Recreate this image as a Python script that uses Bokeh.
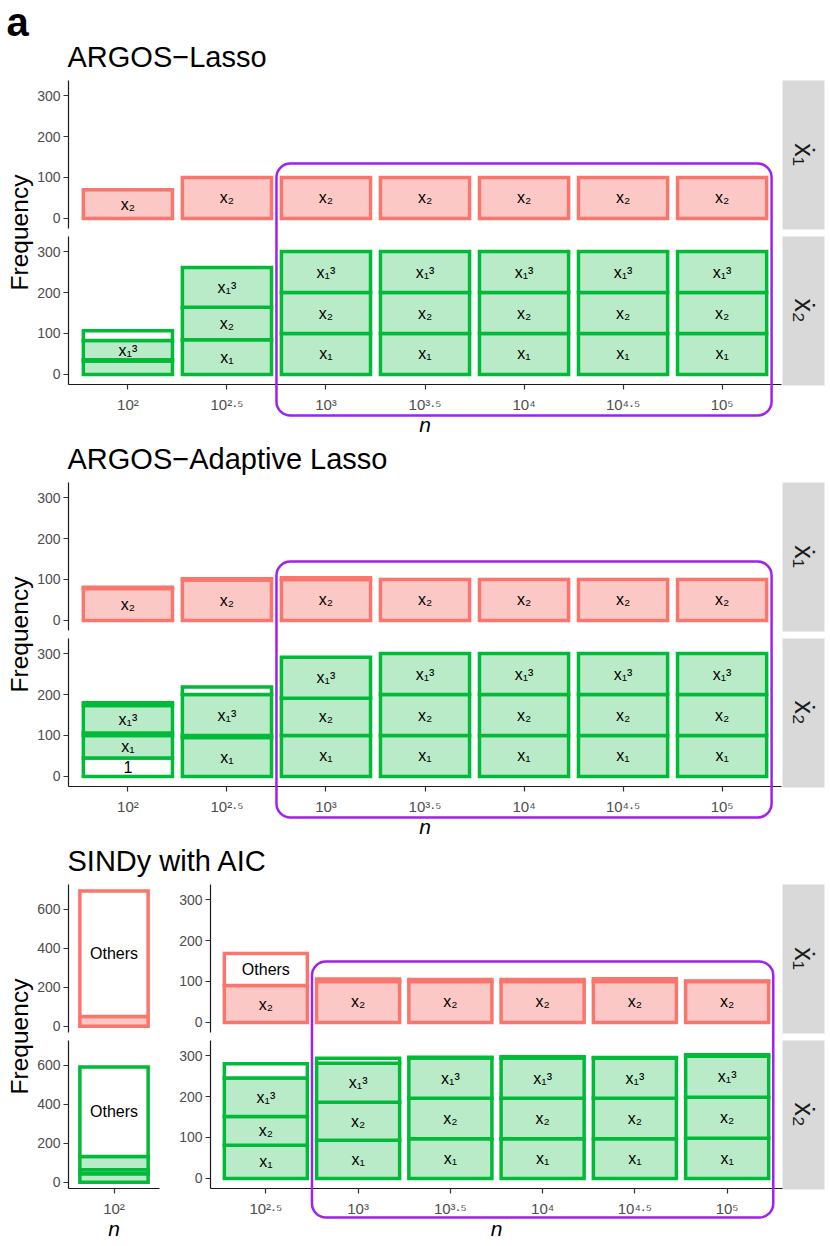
import math
from bokeh.plotting import figure
from bokeh.models import Range1d, LinearAxis, FixedTicker, BoxAnnotation, ColumnDataSource
from bokeh.core.properties import value
from bokeh.embed import file_html
from bokeh.resources import INLINE

FONT = "Liberation Sans"

# ---------------- data ----------------
log_n = [2, 2.5, 3, 3.5, 4, 4.5, 5]
n_labels = ["10²", "10²·⁵", "10³", "10³·⁵", "10⁴", "10⁴·⁵", "10⁵"]
freq_ticks = [0, 100, 200, 300]
freq_ticks_wide = [0, 200, 400, 600]
term_keys = ["1", "x1", "x2", "x1^3", "others"]
term_text = ["1", "x₁", "x₂", "x₁³", "Others"]
true_terms_dx1 = ["x2"]
true_terms_dx2 = ["x1", "x2", "x1^3"]
method_titles = ["ARGOS−Lasso", "ARGOS−Adaptive Lasso", "SINDy with AIC"]
equation_labels = ["ẋ₁", "ẋ₂"]

# ARGOS-Lasso
lasso_dx1_x2 = [70, 100, 100, 100, 100, 100, 100]
lasso_dx2_x1 = [33, 85, 100, 100, 100, 100, 100]
lasso_dx2_x2 = [3, 79, 100, 100, 100, 100, 100]
lasso_dx2_x1c = [47, 97, 100, 100, 100, 100, 100]
lasso_dx2_others = [24, 0, 0, 0, 0, 0, 0]
# ARGOS-Adaptive Lasso
alasso_dx1_x2 = [78, 99, 100, 100, 100, 100, 100]
alasso_dx1_others = [3, 3, 4, 0, 0, 0, 0]
alasso_dx2_1 = [45, 0, 0, 0, 0, 0, 0]
alasso_dx2_x1 = [55, 95, 100, 100, 100, 100, 100]
alasso_dx2_x2 = [6, 5, 91, 100, 100, 100, 100]
alasso_dx2_x1c = [67, 100, 100, 100, 100, 100, 100]
alasso_dx2_others = [7, 18, 0, 0, 0, 0, 0]
# SINDy with AIC
sindy_dx1_x2 = [50, 90, 100, 100, 100, 100, 100]
sindy_dx1_others = [645, 78, 6, 5, 5, 7, 1]
sindy_dx2_x1 = [43, 81, 93, 97, 97, 97, 98]
sindy_dx2_x2 = [21, 70, 93, 99, 99, 99, 100]
sindy_dx2_x1c = [68, 94, 95, 98, 98, 97, 100]
sindy_dx2_others = [460, 35, 12, 2, 3, 2, 4]

method_series = [
    {"dx1": {"x2": lasso_dx1_x2},
     "dx2": {"x1": lasso_dx2_x1, "x2": lasso_dx2_x2, "x1^3": lasso_dx2_x1c, "others": lasso_dx2_others}},
    {"dx1": {"x2": alasso_dx1_x2, "others": alasso_dx1_others},
     "dx2": {"1": alasso_dx2_1, "x1": alasso_dx2_x1, "x2": alasso_dx2_x2, "x1^3": alasso_dx2_x1c,
             "others": alasso_dx2_others}},
    {"dx1": {"x2": sindy_dx1_x2, "others": sindy_dx1_others},
     "dx2": {"x1": sindy_dx2_x1, "x2": sindy_dx2_x2, "x1^3": sindy_dx2_x1c, "others": sindy_dx2_others}},
]
true_terms = {"dx1": true_terms_dx1, "dx2": true_terms_dx2}

# ---------------- style / layout ----------------
RED, RED_FILL = "#F8766D", "#FCC8C5"
GREEN, GREEN_FILL = "#00BA38", "#BAEBC8"
PURPLE = "#A020F0"
STRIP_BG = "#D9D9D9"

W, H = 828, 1244
PX0, PX1 = 0, W
PY0, PY1 = 0, H
PANEL_DY = [0, 402, 804]
FACET_SPAN = [(80, 228), (236, 384)]
YLIM = (-24.4, 336.6)
YLIM_WIDE = (-32.4, 728.5)
STRIP_X = (782, 824)
BOX_TOP = [163, 159, 157]
BOX_BOTTOM = [415, 415, 413]
BAR_W = 0.45
LABEL_FRAC = 0.12

parts_by_method = [
    [("all", list(range(7)), (68, 781), YLIM, freq_ticks)],
    [("all", list(range(7)), (68, 781), YLIM, freq_ticks)],
    [("low", [0], (68, 159), YLIM_WIDE, freq_ticks_wide),
     ("high", list(range(1, 7)), (210, 782), YLIM, freq_ticks)],
]


class LinMap:
    def __init__(self, lo, hi, p_lo, p_hi):
        self.lo, self.p_lo = lo, p_lo
        self.k = (p_hi - p_lo) / (hi - lo)

    def __call__(self, v):
        return self.p_lo + (v - self.lo) * self.k

    def inv(self, p):
        return self.lo + (p - self.p_lo) / self.k


p = figure(width=W, height=H, x_range=Range1d(PX0, PX1), y_range=Range1d(PY1, PY0),
           x_axis_type=None, y_axis_type=None, output_backend="svg",
           toolbar_location=None, tools="", min_border=0)
p.outline_line_color = None
p.background_fill_color = "white"
p.border_fill_color = "white"

extra_x, extra_y = {}, {}


def style_axis(a):
    a.axis_line_color = "#1A1A1A"
    a.axis_line_width = 1.2
    a.major_tick_line_color = "#333333"
    a.major_tick_line_width = 1.2
    a.major_tick_out = 5
    a.major_tick_in = 0
    a.minor_tick_line_color = None
    a.major_label_text_font = FONT
    a.major_label_text_font_size = "14px"
    a.major_label_text_color = "#4D4D4D"
    a.major_label_standoff = 3


def txt(x, y, s, size, **kw):
    p.text(x=[x], y=[y], text=[s], text_font=value(FONT), text_font_size=size,
           text_color=kw.pop("color", "black"), **kw)


txt(6, 21, "a", "40px", text_font_style="bold", text_baseline="middle")

for m, title in enumerate(method_titles):
    dy = PANEL_DY[m]
    series = method_series[m]
    txt(67, 56 + dy, title, "29px", text_baseline="middle")
    txt(19, 232 + dy, "Frequency", "24.5px", angle=math.pi / 2,
        text_align="center", text_baseline="middle")
    high_map = None
    for pname, idx, (pl, pr), ylim, yt in parts_by_method[m]:
        xs = [log_n[i] for i in idx]
        xlo, xhi = xs[0] - 0.3, xs[-1] + 0.3
        xmap = LinMap(xlo, xhi, pl, pr)
        high_map = xmap
        xname = f"x_{m}_{pname}"
        extra_x[xname] = Range1d(xmap.inv(PX0), xmap.inv(PX1))
        for f, eq in enumerate(["dx1", "dx2"]):
            top_px, bot_px = FACET_SPAN[f][0] + dy, FACET_SPAN[f][1] + dy
            ymap = LinMap(ylim[0], ylim[1], bot_px, top_px)
            yname = f"y_{m}_{pname}_{f}"
            extra_y[yname] = Range1d(ymap.inv(PY1), ymap.inv(PY0))
            stroke, fillc = (RED, RED_FILL) if f == 0 else (GREEN, GREEN_FILL)
            bars = dict(x=[], bottom=[], top=[], fill=[])
            labs = dict(x=[], y=[], text=[])
            cum = [0.0] * len(idx)
            for key, ttext in zip(term_keys, term_text):
                if key not in series[eq]:
                    continue
                counts = series[eq][key]
                for j, i in enumerate(idx):
                    c = counts[i]
                    if c <= 0:
                        continue
                    b, t = cum[j], cum[j] + c
                    cum[j] = t
                    bars["x"].append(log_n[i])
                    bars["bottom"].append(b)
                    bars["top"].append(t)
                    bars["fill"].append(fillc if key in true_terms[eq] else "white")
                    if c / (ylim[1] - ylim[0]) >= LABEL_FRAC:
                        labs["x"].append(log_n[i])
                        labs["y"].append((b + t) / 2)
                        labs["text"].append(ttext)
            p.vbar(x="x", width=BAR_W, bottom="bottom", top="top", fill_color="fill",
                   line_color=stroke, line_width=3.5, line_join="miter",
                   source=ColumnDataSource(bars), x_range_name=xname, y_range_name=yname)
            p.text(x="x", y="y", text="text", source=ColumnDataSource(labs),
                   text_font=value(FONT), text_font_size="16px", text_color="black",
                   text_align="center", text_baseline="middle",
                   x_range_name=xname, y_range_name=yname)
            ya = LinearAxis(x_range_name=xname, y_range_name=yname, fixed_location=xlo,
                            bounds=ylim, ticker=FixedTicker(ticks=yt))
            style_axis(ya)
            p.add_layout(ya, "left")
            if f == 1:
                xa = LinearAxis(x_range_name=xname, y_range_name=yname, fixed_location=ylim[0],
                                bounds=(xlo, xhi), ticker=FixedTicker(ticks=xs),
                                major_label_overrides={float(log_n[i]): n_labels[i] for i in idx},
                                axis_label="n")
                style_axis(xa)
                xa.major_label_text_font_size = "15px"
                xa.major_label_standoff = 6
                xa.axis_label_text_font = FONT
                xa.axis_label_text_font_style = "italic"
                xa.axis_label_text_font_size = "21px"
                xa.axis_label_text_color = "black"
                xa.axis_label_standoff = -3
                p.add_layout(xa, "below")
    # facet strips
    for f in range(2):
        top_px, bot_px = FACET_SPAN[f][0] + dy, FACET_SPAN[f][1] + dy
        p.quad(left=[STRIP_X[0]], right=[STRIP_X[1]], top=[top_px], bottom=[bot_px + 1],
               fill_color=STRIP_BG, line_color=None)
        txt((STRIP_X[0] + STRIP_X[1]) / 2, (top_px + bot_px) / 2, equation_labels[f], "27px",
            angle=-math.pi / 2, text_align="center", text_baseline="middle", color="#1A1A1A")
    # highlight box
    p.add_layout(BoxAnnotation(left=high_map(2.75), right=high_map(5.25),
                               top=BOX_TOP[m] + dy, bottom=BOX_BOTTOM[m] + dy,
                               fill_color=None, fill_alpha=0, line_color=PURPLE,
                               line_alpha=1.0, line_width=2.5, border_radius=14))

p.extra_x_ranges = extra_x
p.extra_y_ranges = extra_y

open("out.html", "w").write(file_html(p, INLINE))
